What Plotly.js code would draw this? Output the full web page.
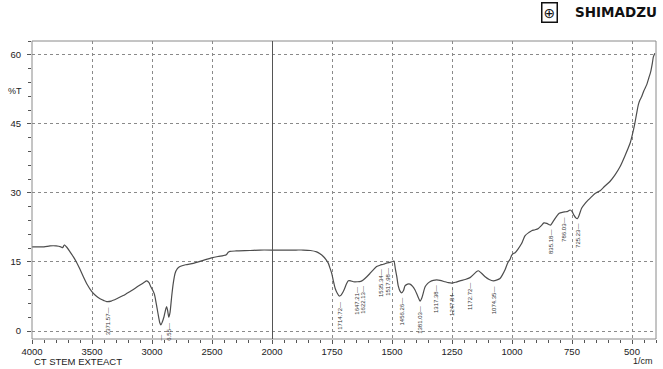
<!DOCTYPE html>
<html><head><meta charset="utf-8">
<script src="https://cdn.plot.ly/plotly-3.0.1.min.js"></script>
<style>html,body{margin:0;padding:0;background:#fff}#chart{width:663px;height:369px}</style>
</head><body><div id="chart"></div>
<script>
// High wavenumber region (4000-2000 1/cm)
const wnHigh = [4000,3900,3850,3800,3760,3745,3731,3710,3683,3655,3628,3600,3572,3540,3503,3470,3433,3400,3378,3340,3294,3240,3183,3140,3100,3070,3044,3025,3010,2995,2980,2965,2950,2935,2926,2915,2900,2885,2878,2870,2860,2850,2836,2822,2808,2790,2767,2720,2656,2580,2503,2450,2406,2380,2365,2350,2300,2183,2100,2000];
const tHigh = [18.3,18.3,18.5,18.5,18.3,18.1,18.7,18.2,17.2,16.1,14.9,13.4,11.8,10.1,8.6,7.7,7.0,6.6,6.4,6.5,7.0,7.7,8.6,9.3,10.0,10.5,10.9,10.5,9.6,8.9,8.0,6.0,3.8,1.8,1.3,1.9,3.1,4.8,5.3,4.5,3.0,4.0,7.5,10.5,12.5,13.5,14.0,14.4,14.7,15.3,15.9,16.2,16.4,16.6,17.1,17.3,17.4,17.5,17.6,17.6];
// Low wavenumber region (2000-400 1/cm)
const wnLow = [2000,1900,1870,1840,1814,1800,1786,1775,1765,1758,1751,1744,1737,1728,1720,1712,1700,1690,1682,1672,1661,1644,1630,1620,1605,1592,1578,1564,1550,1536,1520,1508,1497,1492,1486,1480,1474,1466,1460,1452,1446,1435,1425,1414,1404,1393,1383,1375,1362,1352,1342,1328,1314,1300,1279,1265,1251,1235,1217,1195,1175,1160,1150,1140,1128,1112,1095,1078,1062,1050,1040,1029,1018,1008,1001,993,987,975,960,946,930,918,904,890,878,867,855,845,840,835,825,812,803,790,779,768,758,750,742,734,728,720,710,696,682,668,654,633,615,592,570,550,530,508,498,488,481,474,467,460,450,439,430,422,415,411,405];
const tLow = [17.6,17.6,17.6,17.5,17.2,16.8,16.2,15.5,14.7,13.6,12.5,10.8,9.3,8.2,7.6,7.8,8.9,10.2,10.9,10.9,10.7,10.7,10.8,11.1,11.8,12.5,13.3,14.0,14.3,14.5,14.8,14.9,15.1,15.2,13.5,11.8,9.8,8.6,8.3,8.8,9.8,10.2,10.2,9.7,8.9,7.6,6.5,7.3,9.6,10.3,10.7,11.0,11.1,11.0,10.7,10.5,10.4,10.6,10.9,11.2,11.6,12.3,12.8,13.1,12.6,11.8,11.2,10.9,11.1,11.4,12.2,13.3,14.8,15.6,16.5,16.9,17.0,17.8,19.0,20.7,21.4,21.8,22.0,22.3,22.9,23.5,23.4,23.1,23.0,23.3,24.1,25.1,25.6,25.8,25.9,26.0,26.3,26.0,25.2,24.6,24.4,25.2,26.7,27.7,28.5,29.2,29.9,30.5,31.4,32.5,34.0,35.7,38.0,40.8,42.8,45.2,47.2,49.1,50.2,50.9,52.3,53.5,55.0,56.4,58.3,59.6,60.4];
// Peak labels
const peakWnHigh = [3371.57, 2856.55];
const peakTHigh = [6.4, 3.0];
const peakTextHigh = ["3371.57", "6.55"];
const peakWnLow = [1714.72,1647.21,1622.13,1535.34,1517.98,1456.26,1381.03,1317.38,1247.84,1172.72,1074.35,835.18,786.03,725.23];
const peakTLow = [7.6,10.7,10.9,14.5,14.8,8.3,6.5,11.1,10.4,11.6,10.9,23.0,25.8,24.4];
const hiddenPeakWn = 2926.55;
const hiddenPeakT = 1.3;
const tickHigh = [4000,3500,3000,2500];
const tickLow = [2000,1750,1500,1250,1000,750,500];
const yTicks = [0,15,30,45,60];

const lineStyle = {color:'#4d4d4d', width:1.2, shape:'spline', smoothing:0.6};
const traces = [
  {x: wnHigh, y: tHigh, xaxis:'x', yaxis:'y', mode:'lines', line: lineStyle, hoverinfo:'skip'},
  {x: wnLow, y: tLow, xaxis:'x2', yaxis:'y', mode:'lines', line: lineStyle, hoverinfo:'skip'}
];
const split = 240/624;
const tickFont = {family:'Liberation Sans, Arial, sans-serif', size:9.5, color:'#222'};
const gridStyle = {showgrid:true, gridcolor:'#8a8a8a', gridwidth:1, griddash:'dot'};
const xCommon = Object.assign({
  tickmode:'array', ticks:'outside', ticklen:4, tickcolor:'#555', tickfont:tickFont,
  showline:false, zeroline:false, anchor:'y', fixedrange:true
}, gridStyle);
const layout = {
  width:663, height:369,
  margin:{l:32, r:7, t:41, b:30},
  paper_bgcolor:'#fff', plot_bgcolor:'#fff',
  showlegend:false,
  xaxis: Object.assign({}, xCommon, {domain:[0, split], range:[4000,2000], tickvals:tickHigh,
    minor:{dtick:100, tick0:0, ticks:'outside', ticklen:3, tickcolor:'#555', showgrid:false}}),
  xaxis2: Object.assign({}, xCommon, {domain:[split, 1], range:[2000,400], tickvals:tickLow,
    minor:{dtick:50, tick0:0, ticks:'outside', ticklen:3, tickcolor:'#555', showgrid:false}}),
  yaxis: Object.assign({}, gridStyle, {range:[-1.74, 63.04], tickmode:'array', tickvals:yTicks,
    ticks:'outside', ticklen:4, tickcolor:'#555', tickfont:tickFont, ticklabelstandoff:4,
    showline:false, zeroline:false, anchor:'x', fixedrange:true,
    minor:{dtick:3, tick0:0, ticks:'outside', ticklen:3, tickcolor:'#555', showgrid:false}}),
  shapes: [
    {type:'rect', xref:'paper', yref:'paper', x0:0, x1:1, y0:0, y1:1, line:{color:'#8a8a8a', width:1}},
    {type:'line', xref:'x2', yref:'paper', x0:2000, x1:2000, y0:0, y1:1, line:{color:'#555', width:2}}
  ],
  annotations: []
};
const labFont = {family:'Liberation Sans, Arial, sans-serif', size:6, color:'#333'};
const offset = 0.7;
peakWnHigh.forEach((w,i)=>{
  layout.annotations.push({xref:'x', yref:'y', x:w, y:peakTHigh[i]-offset, text:peakTextHigh[i]+'\u2014',
    textangle:-90, showarrow:false, xanchor:'center', yanchor:'top', font:labFont});
});
peakWnLow.forEach((w,i)=>{
  layout.annotations.push({xref:'x2', yref:'y', x:w, y:peakTLow[i]-offset, text:w.toFixed(2)+'\u2014',
    textangle:-90, showarrow:false, xanchor:'center', yanchor:'top', font:labFont,
    xshift: (w===1535.34 ? -3 : 0)});
});
layout.annotations.push({xref:'x', yref:'y', x:hiddenPeakWn, y:hiddenPeakT-1.7, text:'\u2014',
  textangle:-90, showarrow:false, xanchor:'center', yanchor:'top', font:labFont});
const txtFont = {family:'Liberation Sans, Arial, sans-serif', size:9, color:'#222'};
layout.annotations.push(
  {xref:'paper', yref:'paper', x:-0.027, y:0.832, text:'%T', showarrow:false, xanchor:'center', yanchor:'middle', font:txtFont},
  {xref:'paper', yref:'paper', x:0.0, y:-0.074, text:'CT STEM EXTEACT', showarrow:false, xanchor:'left', yanchor:'middle', font:{family:'Liberation Sans, Arial, sans-serif', size:9.5, color:'#222'}},
  {xref:'paper', yref:'paper', x:0.998, y:-0.074, text:'1/cm', showarrow:false, xanchor:'right', yanchor:'middle', font:txtFont},
  {xref:'paper', yref:'paper', x:1.005, y:1.097, text:'<b>SHIMADZU</b>', showarrow:false, xanchor:'right', yanchor:'middle', font:{family:'DejaVu Sans, sans-serif', size:13.5, color:'#111'}},
  {xref:'paper', yref:'paper', x:0.830, y:1.097, text:'\u2295', showarrow:false, xanchor:'center', yanchor:'middle', bordercolor:'#111', borderwidth:1.5, borderpad:1, font:{family:'DejaVu Sans, sans-serif', size:14, color:'#111'}}
);
Plotly.newPlot('chart', traces, layout, {staticPlot:true, displayModeBar:false});
</script></body></html>
